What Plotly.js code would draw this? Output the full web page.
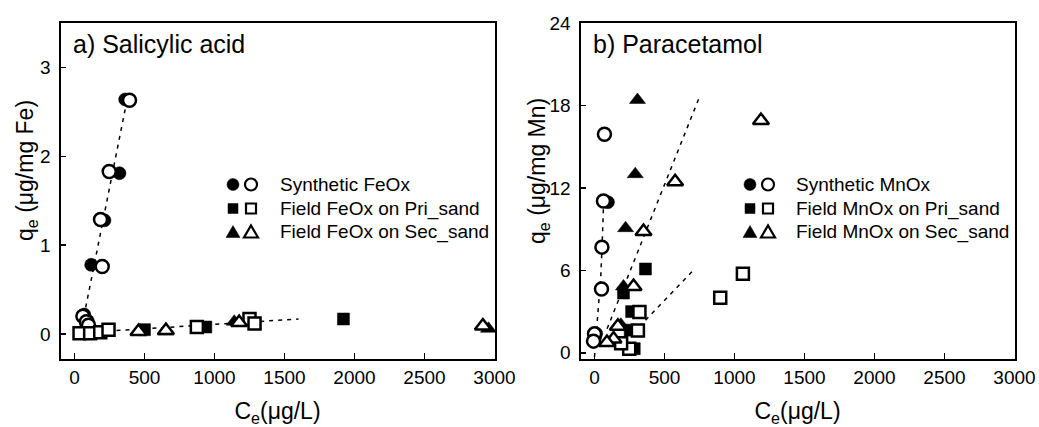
<!DOCTYPE html>
<html>
<head>
<meta charset="utf-8">
<script src="https://cdn.plot.ly/plotly-3.0.1.min.js"></script>
<style>html,body{margin:0;padding:0;background:#fff;}#chart{width:1039px;height:427px;}</style>
</head>
<body>
<div id="chart"></div>
<script>
// ---------- Data: a) Salicylic acid (FeOx) ----------
const saSynFilledX = [362, 321, 214, 119, 70, 95];
const saSynFilledY = [2.64, 1.81, 1.28, 0.78, 0.22, 0.15];
const saSynOpenX = [393, 248, 186, 198, 60, 85, 100];
const saSynOpenY = [2.63, 1.83, 1.29, 0.76, 0.20, 0.14, 0.10];
const saPriFilledX = [500, 938, 1921];
const saPriFilledY = [0.05, 0.08, 0.17];
const saPriOpenX = [36, 112, 184, 243, 874, 1250, 1286];
const saPriOpenY = [0.01, 0.01, 0.02, 0.05, 0.08, 0.17, 0.12];
const saSecFilledX = [469, 650, 1141, 2957];
const saSecFilledY = [0.04, 0.03, 0.14, 0.06];
const saSecOpenX = [457, 653, 1176, 2917];
const saSecOpenY = [0.03, 0.04, 0.13, 0.09];
const saSynFitX = [80, 362];
const saSynFitY = [0.30, 2.53];
const saFieldFitX = [300, 1600];
const saFieldFitY = [0.04, 0.17];

// ---------- Data: b) Paracetamol (MnOx) ----------
const paSynFilledX = [96, 5, 12];
const paSynFilledY = [10.96, 1.15, 1.4];
const paSynOpenX = [71, 64, 53, 50, 0, -7];
const paSynOpenY = [15.9, 11.05, 7.69, 4.64, 1.38, 0.85];
const paPriFilledX = [364, 207, 265, 255, 284];
const paPriFilledY = [6.1, 4.35, 3.0, 1.65, 0.3];
const paPriOpenX = [321, 310, 248, 190, 898, 1060];
const paPriOpenY = [2.97, 1.62, 0.3, 0.7, 4.0, 5.75];
const paSecFilledX = [307, 291, 222, 207, 188];
const paSecFilledY = [18.4, 13.0, 9.07, 4.83, 2.05];
const paSecOpenX = [576, 1189, 350, 279, 167, 136, 89];
const paSecOpenY = [12.45, 16.9, 8.83, 4.83, 1.93, 1.0, 0.75];
const paSynFitX = [0, 24, 45, 55, 64];
const paSynFitY = [-0.3, 3.1, 5.6, 8.0, 10.6];
const paPriFitX = [320, 720];
const paPriFitY = [1.9, 6.15];
const paSecFitX = [90, 745];
const paSecFitY = [1.75, 18.5];

// ---------- Text ----------
const panelTitles = ["a) Salicylic acid", "b) Paracetamol"];
const legendNamesA = ["Synthetic FeOx", "Field FeOx on Pri_sand", "Field FeOx on Sec_sand"];
const legendNamesB = ["Synthetic MnOx", "Field MnOx on Pri_sand", "Field MnOx on Sec_sand"];
const xTitle = "C<sub>e</sub>(\u03bcg/L)";
const yTitleA = "q<sub>e</sub> (\u03bcg/mg Fe)";
const yTitleB = "q<sub>e</sub> (\u03bcg/mg Mn)";
const xTicks = [0, 500, 1000, 1500, 2000, 2500, 3000];
const yTicksA = [0, 1, 2, 3];
const yTicksB = [0, 6, 12, 18, 24];

const FONT = "Arial, 'Liberation Sans', sans-serif";
const symbols = ["circle", "square", "triangle-up"];
const sizes = [13, 12, 14];

function markerTrace(x, y, k, filled, xa, ya, name) {
  return {
    type: "scatter", mode: "markers", x: x, y: y, xaxis: xa, yaxis: ya,
    name: name, showlegend: false, cliponaxis: false,
    marker: {
      symbol: symbols[k], size: sizes[k],
      color: filled ? "#000" : "#fff",
      line: {color: "#000", width: filled ? 0.5 : 2.5}
    }
  };
}
function fitTrace(x, y, xa, ya) {
  return {
    type: "scatter", mode: "lines", x: x, y: y, xaxis: xa, yaxis: ya,
    showlegend: false, hoverinfo: "skip",
    line: {color: "#000", width: 1.5, dash: "4px,5px"}
  };
}

const traces = [
  fitTrace(saSynFitX, saSynFitY, "x", "y"),
  fitTrace(saFieldFitX, saFieldFitY, "x", "y"),
  fitTrace(paSynFitX, paSynFitY, "x2", "y2"),
  fitTrace(paPriFitX, paPriFitY, "x2", "y2"),
  fitTrace(paSecFitX, paSecFitY, "x2", "y2"),

  markerTrace(saSynFilledX, saSynFilledY, 0, true, "x", "y", legendNamesA[0]),
  markerTrace(saPriFilledX, saPriFilledY, 1, true, "x", "y", legendNamesA[1]),
  markerTrace(saSecFilledX, saSecFilledY, 2, true, "x", "y", legendNamesA[2]),
  markerTrace(saSynOpenX, saSynOpenY, 0, false, "x", "y", legendNamesA[0]),
  markerTrace(saPriOpenX, saPriOpenY, 1, false, "x", "y", legendNamesA[1]),
  markerTrace(saSecOpenX, saSecOpenY, 2, false, "x", "y", legendNamesA[2]),

  markerTrace(paSynFilledX, paSynFilledY, 0, true, "x2", "y2", legendNamesB[0]),
  markerTrace(paPriFilledX, paPriFilledY, 1, true, "x2", "y2", legendNamesB[1]),
  markerTrace(paSecFilledX, paSecFilledY, 2, true, "x2", "y2", legendNamesB[2]),
  markerTrace(paSynOpenX, paSynOpenY, 0, false, "x2", "y2", legendNamesB[0]),
  markerTrace(paPriOpenX, paPriOpenY, 1, false, "x2", "y2", legendNamesB[1]),
  markerTrace(paSecOpenX, paSecOpenY, 2, false, "x2", "y2", legendNamesB[2])
];

const W = 1039, H = 427;
const mT = 23, mB = 68;
const plotH = H - mT - mB;
function px2x(p) { return p / W; }
function py2y(p) { return (H - mB - p) / plotH; }

function xAxis(domain, anchor) {
  return {
    domain: domain, anchor: anchor, range: [-100, 3000], tickvals: xTicks,
    ticks: "inside", ticklen: 6, tickwidth: 1.5, tickcolor: "#000",
    showline: true, linecolor: "#000", linewidth: 2, mirror: true,
    showgrid: false, zeroline: false, automargin: false,
    tickfont: {family: FONT, size: 19, color: "#000"},
    title: {text: xTitle, font: {family: FONT, size: 23, color: "#000"}, standoff: 16}
  };
}
function yAxis(range, ticks, anchor) {
  return {
    anchor: anchor, range: range, tickvals: ticks,
    ticks: "inside", ticklen: 5, tickwidth: 1.5, tickcolor: "#000",
    showline: true, linecolor: "#000", linewidth: 2, mirror: true,
    showgrid: false, zeroline: false, automargin: false, ticklabelstandoff: 4,
    tickfont: {family: FONT, size: 19, color: "#000"}
  };
}

// ---------- Legend (keys as pixel-sized shapes, labels as text) ----------
const legRowsY = [184.5, 208.5, 231.5];
const legPanels = [
  {filledX: 233, openX: 251, textX: 279, names: legendNamesA},
  {filledX: 750, openX: 768, textX: 795, names: legendNamesB}
];
const shapes = [];
const annotations = [];
function keyShape(k, cx, cy, filled) {
  const base = {
    xref: "paper", yref: "paper", xsizemode: "pixel", ysizemode: "pixel",
    xanchor: px2x(cx), yanchor: py2y(cy), layer: "above",
    fillcolor: filled ? "#000" : "#fff",
    line: {color: "#000", width: filled ? 0.5 : 2.2}
  };
  if (k === 0) return Object.assign(base, {type: "circle", x0: -6, x1: 6, y0: -6, y1: 6});
  if (k === 1) return Object.assign(base, {type: "rect", x0: -5, x1: 5, y0: -5, y1: 5});
  return Object.assign(base, {type: "path", path: "M-7,-6L7,-6L0,6Z"});
}
legPanels.forEach(function (p) {
  for (let k = 0; k < 3; k++) {
    shapes.push(keyShape(k, p.filledX, legRowsY[k], true));
    shapes.push(keyShape(k, p.openX, legRowsY[k], false));
    annotations.push({
      xref: "paper", yref: "paper", x: px2x(p.textX), y: py2y(legRowsY[k] + 0.5),
      xanchor: "left", yanchor: "middle", showarrow: false, borderpad: 0,
      text: p.names[k], font: {family: FONT, size: 19, color: "#000"}
    });
  }
});

// panel titles
annotations.push(
  {xref: "paper", yref: "paper", x: px2x(71), y: py2y(44), xanchor: "left", yanchor: "middle",
   text: panelTitles[0], showarrow: false, font: {family: FONT, size: 25, color: "#000"}},
  {xref: "paper", yref: "paper", x: px2x(591), y: py2y(44), xanchor: "left", yanchor: "middle",
   text: panelTitles[1], showarrow: false, font: {family: FONT, size: 25, color: "#000"}}
);
// y-axis titles
annotations.push(
  {xref: "paper", yref: "paper", x: px2x(26), y: py2y(171), xanchor: "center", yanchor: "middle",
   textangle: -90, text: yTitleA, showarrow: false, font: {family: FONT, size: 23, color: "#000"}},
  {xref: "paper", yref: "paper", x: px2x(538), y: py2y(171), xanchor: "center", yanchor: "middle",
   textangle: -90, text: yTitleB, showarrow: false, font: {family: FONT, size: 23, color: "#000"}}
);

const layout = {
  width: W, height: H,
  margin: {l: 0, r: 0, t: mT, b: mB},
  paper_bgcolor: "#fff", plot_bgcolor: "#fff",
  showlegend: false,
  xaxis: xAxis([60.5 / W, 494.5 / W], "y"),
  yaxis: yAxis([-0.28, 3.5], yTicksA, "x"),
  xaxis2: xAxis([580.5 / W, 1014.5 / W], "y2"),
  yaxis2: yAxis([-0.45, 24], yTicksB, "x2"),
  shapes: shapes,
  annotations: annotations
};

Plotly.newPlot("chart", traces, layout, {staticPlot: true, displayModeBar: false});
</script>
</body>
</html>
